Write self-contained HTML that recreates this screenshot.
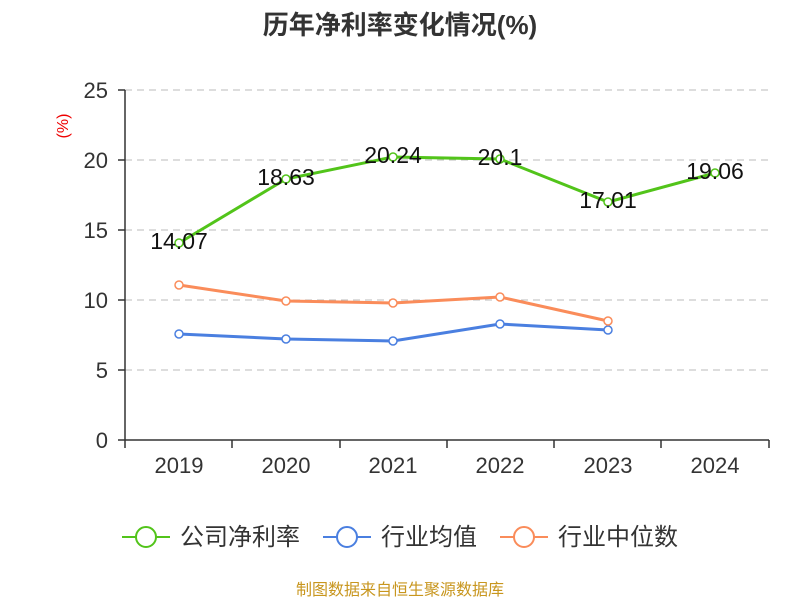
<!DOCTYPE html>
<html><head><meta charset="utf-8"><style>
body{margin:0;background:#fff;}
svg text{font-family:"Liberation Sans","Noto Sans CJK SC",sans-serif;}
</style></head><body>
<svg width="800" height="600" xmlns="http://www.w3.org/2000/svg">
<text x="400" y="34" text-anchor="middle" font-size="26" font-weight="bold" fill="#333">历年净利率变化情况(%)</text>
<text x="68" y="126" text-anchor="middle" font-size="16" fill="#e00" transform="rotate(-90 68 126)">(%)</text>
<g stroke="#bbb" stroke-dasharray="7,5" stroke-width="1">
<line x1="125" y1="90" x2="769" y2="90"/><line x1="125" y1="160" x2="769" y2="160"/>
<line x1="125" y1="230" x2="769" y2="230"/><line x1="125" y1="300" x2="769" y2="300"/>
<line x1="125" y1="370" x2="769" y2="370"/></g>
<g stroke="#333" stroke-width="1.5">
<line x1="125" y1="90" x2="125" y2="440"/><line x1="125" y1="440" x2="769" y2="440"/>
<line x1="118" y1="90" x2="125" y2="90"/><line x1="118" y1="160" x2="125" y2="160"/><line x1="118" y1="230" x2="125" y2="230"/><line x1="118" y1="300" x2="125" y2="300"/><line x1="118" y1="370" x2="125" y2="370"/><line x1="118" y1="440" x2="125" y2="440"/>
<line x1="125" y1="440" x2="125" y2="448"/><line x1="232" y1="440" x2="232" y2="448"/><line x1="340" y1="440" x2="340" y2="448"/><line x1="447" y1="440" x2="447" y2="448"/><line x1="554" y1="440" x2="554" y2="448"/><line x1="661" y1="440" x2="661" y2="448"/><line x1="769" y1="440" x2="769" y2="448"/>
</g>
<g font-size="22" fill="#333" text-anchor="end">
<text x="108" y="98">25</text><text x="108" y="168">20</text><text x="108" y="238">15</text><text x="108" y="308">10</text><text x="108" y="378">5</text><text x="108" y="448">0</text></g>
<g font-size="22" fill="#333" text-anchor="middle">
<text x="179" y="473">2019</text><text x="286" y="473">2020</text><text x="393" y="473">2021</text><text x="500" y="473">2022</text><text x="608" y="473">2023</text><text x="715" y="473">2024</text></g>
<g fill="none" stroke-width="3">
<polyline stroke="#52c41a" points="179,243 286,179 393,157 500,159 608,202 715,173"/>
<polyline stroke="#4a7fe0" points="179,334 286,339 393,341 500,324 608,330"/>
<polyline stroke="#fa8c5a" points="179,285 286,301 393,303 500,297 608,321"/>
</g>
<g fill="#fff" stroke-width="1.5">
<g stroke="#52c41a"><circle cx="179" cy="243" r="4"/><circle cx="286" cy="179" r="4"/><circle cx="393" cy="157" r="4"/><circle cx="500" cy="159" r="4"/><circle cx="608" cy="202" r="4"/><circle cx="715" cy="173" r="4"/></g>
<g stroke="#4a7fe0"><circle cx="179" cy="334" r="4"/><circle cx="286" cy="339" r="4"/><circle cx="393" cy="341" r="4"/><circle cx="500" cy="324" r="4"/><circle cx="608" cy="330" r="4"/></g>
<g stroke="#fa8c5a"><circle cx="179" cy="285" r="4"/><circle cx="286" cy="301" r="4"/><circle cx="393" cy="303" r="4"/><circle cx="500" cy="297" r="4"/><circle cx="608" cy="321" r="4"/></g>
</g>
<g font-size="23" fill="#111" text-anchor="middle">
<text x="179" y="249">14.07</text><text x="286" y="185">18.63</text><text x="393" y="163">20.24</text><text x="500" y="165">20.1</text><text x="608" y="208">17.01</text><text x="715" y="179">19.06</text></g>
<g stroke-width="2" fill="#fff">
<line x1="122" y1="537" x2="170" y2="537" stroke="#52c41a"/><circle cx="146" cy="537" r="10" stroke="#52c41a"/>
<line x1="323" y1="537" x2="371" y2="537" stroke="#4a7fe0"/><circle cx="347" cy="537" r="10" stroke="#4a7fe0"/>
<line x1="500" y1="537" x2="548" y2="537" stroke="#fa8c5a"/><circle cx="524" cy="537" r="10" stroke="#fa8c5a"/>
</g>
<g font-size="24" fill="#333">
<text x="180" y="545">公司净利率</text><text x="381" y="545">行业均值</text><text x="558" y="545">行业中位数</text></g>
<text x="400" y="595" text-anchor="middle" font-size="16" fill="#c8961e">制图数据来自恒生聚源数据库</text>
</svg>
</body></html>
